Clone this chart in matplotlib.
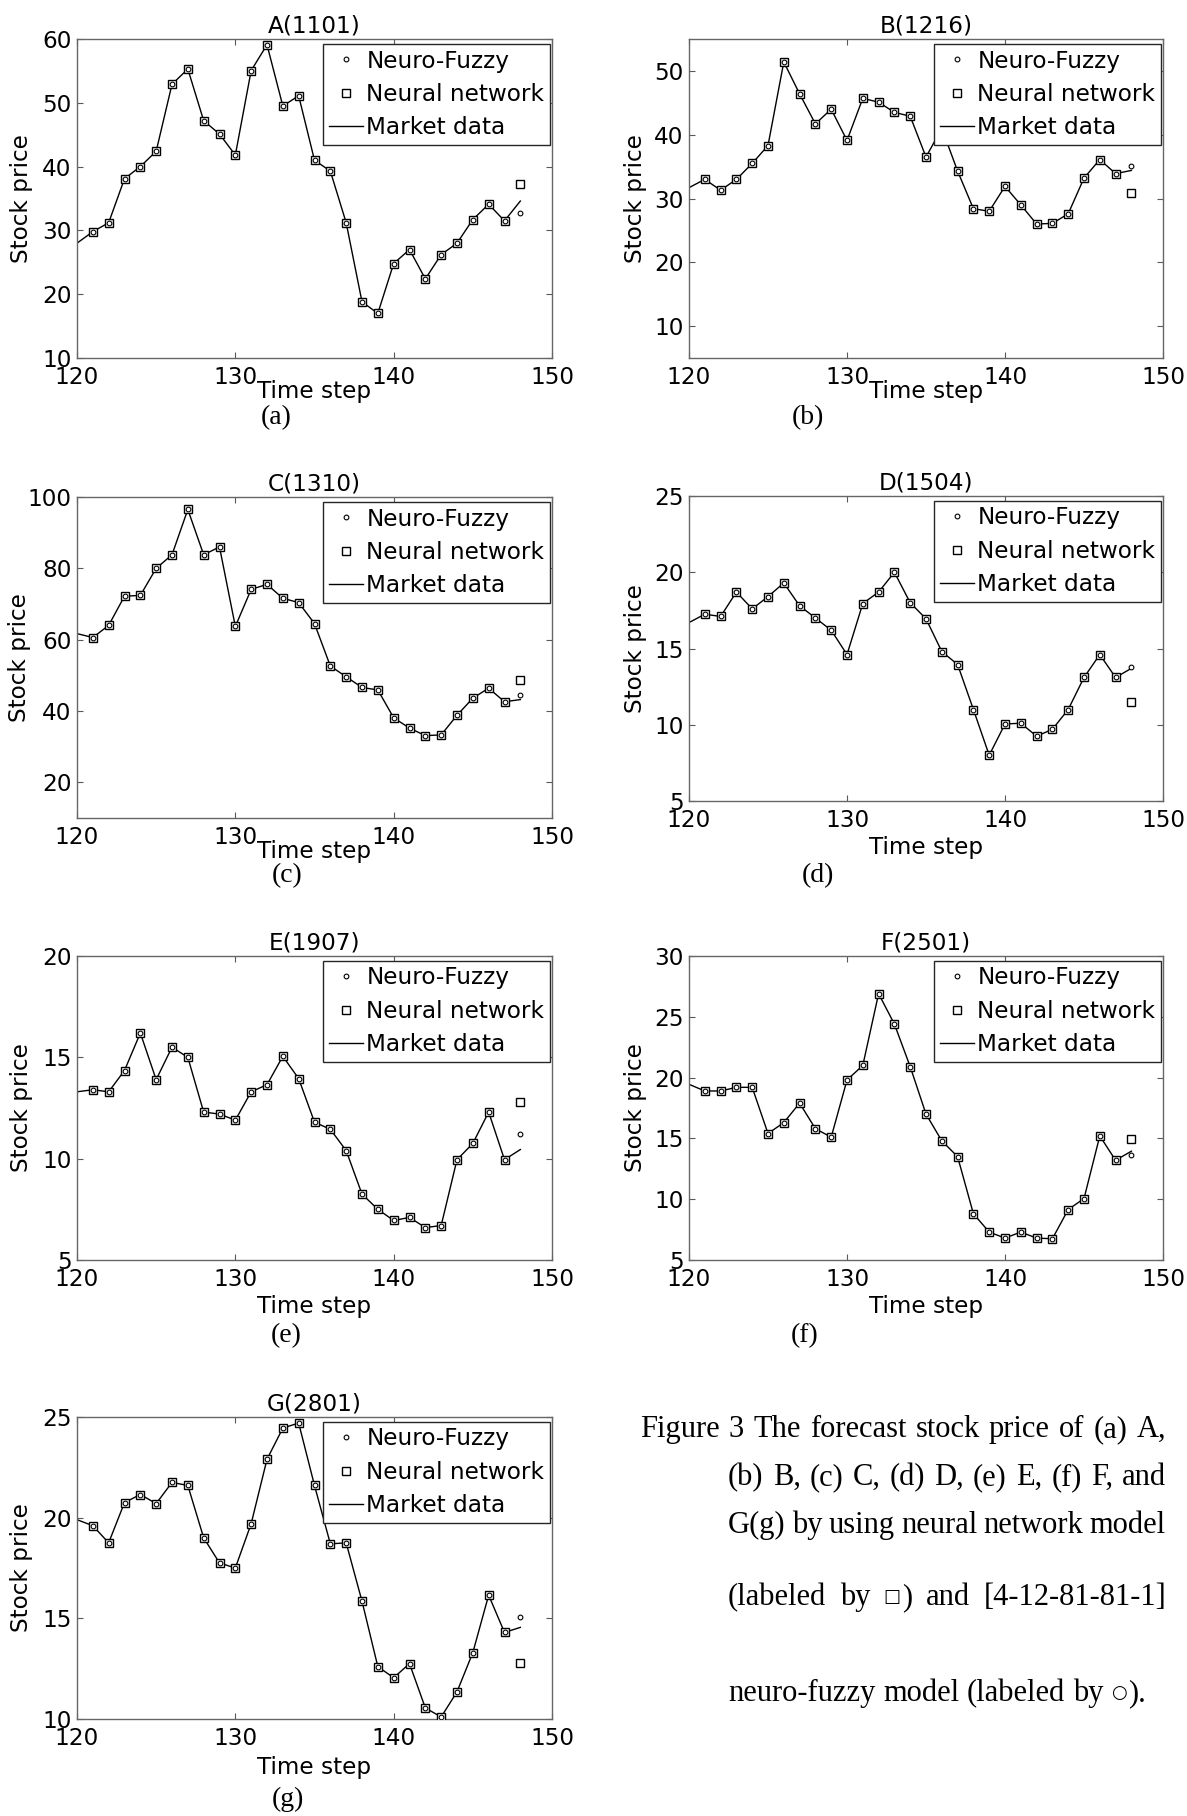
import matplotlib
matplotlib.use('Agg')
import matplotlib.pyplot as plt

W, H = 1187, 1816
fig = plt.figure(figsize=(W / 100, H / 100), dpi=100)
plt.rcParams['font.family'] = ['DejaVu Sans']

steps = list(range(120, 149))

# market data, time step 120..148
market_a = [28.0, 29.8, 31.2, 38.1, 40.0, 42.4, 52.9, 55.3, 47.2, 45.1, 41.8, 55.05, 59.1, 49.5, 51.1,
            41.0, 39.3, 31.2, 18.8, 17.0, 24.8, 27.0, 22.4, 26.2, 28.0, 31.7, 34.1, 31.5, 34.6]
market_b = [31.7, 33.0, 31.3, 33.0, 35.5, 38.3, 51.4, 46.4, 41.7, 44.0, 39.1, 45.7, 45.1, 43.5, 42.9,
            36.5, 41.0, 34.3, 28.4, 28.0, 31.9, 29.0, 26.0, 26.1, 27.6, 33.2, 36.1, 33.9, 34.4]
market_c = [61.7, 60.6, 64.0, 72.2, 72.4, 80.0, 83.8, 96.5, 83.8, 86.0, 63.7, 74.1, 75.5, 71.6, 70.4,
            64.5, 52.6, 49.6, 46.6, 45.9, 38.1, 35.2, 33.1, 33.3, 38.8, 43.6, 46.4, 42.6, 43.2]
market_d = [16.7, 17.25, 17.1, 18.7, 17.6, 18.4, 19.3, 17.8, 17.0, 16.2, 14.6, 17.95, 18.7, 20.0, 18.0,
            16.95, 14.8, 13.95, 11.0, 8.0, 10.05, 10.1, 9.25, 9.7, 11.0, 13.1, 14.6, 13.1, 13.7]
market_e = [13.3, 13.4, 13.3, 14.35, 16.2, 13.9, 15.5, 15.0, 12.3, 12.2, 11.9, 13.3, 13.65, 15.05, 13.95,
            11.8, 11.45, 10.4, 8.25, 7.5, 6.95, 7.1, 6.6, 6.7, 9.95, 10.75, 12.3, 9.95, 10.45]
market_f = [19.45, 18.9, 18.9, 19.2, 19.2, 15.4, 16.3, 17.9, 15.8, 15.1, 19.8, 21.0, 26.9, 24.4, 20.9,
            17.0, 14.8, 13.5, 8.8, 7.3, 6.8, 7.3, 6.8, 6.75, 9.15, 10.05, 15.2, 13.2, 13.95]
market_g = [19.9, 19.6, 18.75, 20.75, 21.15, 20.7, 21.75, 21.6, 19.0, 17.75, 17.5, 19.7, 22.9, 24.45, 24.7,
            21.6, 18.7, 18.75, 15.85, 12.6, 12.05, 12.75, 10.55, 10.1, 11.35, 13.3, 16.15, 14.3, 14.55]
markets = [market_a, market_b, market_c, market_d, market_e, market_f, market_g]

# forecasts at step 148
nf_pred = [32.8, 35.05, 44.6, 13.8, 11.2, 13.65, 15.05]
nn_pred = [37.3, 30.8, 48.7, 11.5, 12.8, 14.95, 12.8]

titles = ['A(1101)', 'B(1216)', 'C(1310)', 'D(1504)', 'E(1907)', 'F(2501)', 'G(2801)']
sublabels = ['(a)', '(b)', '(c)', '(d)', '(e)', '(f)', '(g)']
ylims = [(10, 60), (5, 55), (10, 100), (5, 25), (5, 20), (5, 30), (10, 25)]
yticks = [range(10, 61, 10), range(10, 51, 10), range(20, 101, 20), range(5, 26, 5),
          range(5, 21, 5), range(5, 31, 5), range(10, 26, 5)]
xticks = [120, 130, 140, 150]

# layout in pixels: left, top, right, bottom
boxes = [(77, 39, 552, 358), (689, 39, 1163, 358), (77, 497, 552, 818), (689, 496, 1163, 801),
         (77, 956, 552, 1260), (689, 956, 1163, 1260), (77, 1417, 552, 1719)]
xlab_off = [22, 22, 22, 35, 35, 35, 37]
ylab_off = [44, 42, 46, 42, 44, 42, 44]
sub_pos = [(276, 418), (808, 418), (287, 876), (818, 876), (286, 1336), (805, 1336), (288, 1799)]

FS = 16.7
for i in range(7):
    l, t, r, b = boxes[i]
    ax = fig.add_axes([l / W, 1 - b / H, (r - l) / W, (b - t) / H])
    m = markets[i]
    ax.plot(steps, m, color='k', lw=1.0, label='Market data', zorder=2)
    ax.plot(steps[1:28] + [148], m[1:28] + [nn_pred[i]], ls='none', marker='s', ms=5.2,
            mfc='white', mec='k', mew=1.0, label='Neural network', zorder=3)
    ax.plot(steps[1:28] + [148], m[1:28] + [nf_pred[i]], ls='none', marker='o', ms=3.4,
            mfc='white', mec='k', mew=0.8, label='Neuro-Fuzzy', zorder=4)
    ax.set_xlim(120, 150)
    ax.set_ylim(*ylims[i])
    ax.set_xticks(xticks)
    ax.set_yticks(list(yticks[i]))
    ax.tick_params(direction='in', top=True, right=True, length=4, width=0.8,
                   labelsize=FS, color='0.35')
    ax.tick_params(axis='x', pad=6)
    ax.tick_params(axis='y', pad=4)
    for s in ax.spines.values():
        s.set_color('0.4')
        s.set_linewidth(1.0)
    ax.set_title(titles[i], fontsize=FS, pad=5)
    ax.set_ylabel('Stock price', fontsize=FS)
    ax.yaxis.set_label_coords(-ylab_off[i] / (r - l), 0.5)
    ax.set_xlabel('Time step', fontsize=FS)
    ax.xaxis.set_label_coords(0.5, -xlab_off[i] / (b - t))
    h, lab = ax.get_legend_handles_labels()
    leg = ax.legend([h[2], h[1], h[0]], [lab[2], lab[1], lab[0]],
                    loc='upper right', bbox_to_anchor=(0.996, 0.985), borderaxespad=0,
                    fontsize=FS, fancybox=False, framealpha=1, edgecolor='0.15',
                    handlelength=1.45, handletextpad=0.15, labelspacing=0.45, borderpad=0.25)
    leg.get_frame().set_linewidth(1.0)
    sx, sy = sub_pos[i]
    fig.text(sx / W, 1 - sy / H, sublabels[i], fontsize=20, family=['Liberation Serif'],
             ha='center', va='center')

# caption, justified like the original
CF = 22
cap_lines = [
    (640, 1437, True, ['Figure', '3', 'The', 'forecast', 'stock', 'price', 'of', '(a)', 'A,']),
    (728, 1485, True, ['(b)', 'B,', '(c)', 'C,', '(d)', 'D,', '(e)', 'E,', '(f)', 'F,', 'and']),
    (728, 1533, True, ['G(g)', 'by', 'using', 'neural', 'network', 'model']),
    (728, 1605, True, ['(labeled', 'by', '\u25a1)', 'and', '[4-12-81-81-1]']),
    (728, 1701, False, ['neuro-fuzzy', 'model', '(labeled', 'by', '\u25cb).']),
]
cap_right = 1166
fam = ['Liberation Serif', 'DejaVu Serif']
renderer = fig.canvas.get_renderer()
for x0, yb, justify, words in cap_lines:
    placed = []
    widths = []
    for w in words:
        # symbols are drawn smaller and lifted, as in the original
        if w[0] in '\u25a1\u25cb':
            parts = [(w[0], 13, 3, ['DejaVu Sans']), (w[1:], CF, 0, fam)]
        else:
            parts = [(w, CF, 0, fam)]
        segs = []
        wsum = 0
        for txt, fs, dy, ff in parts:
            tt = fig.text(0, 0, txt, fontsize=fs, family=ff, va='baseline', ha='left')
            ww = tt.get_window_extent(renderer).width
            if fs != CF:
                ww += 2
            segs.append((tt, ww, dy))
            wsum += ww
        placed.append(segs)
        widths.append(wsum)
    if justify:
        gap = (cap_right - x0 - sum(widths)) / (len(words) - 1)
    else:
        space = fig.text(0, 0, 'a b', fontsize=CF, family=fam)
        ab = fig.text(0, 0, 'ab', fontsize=CF, family=fam)
        gap = space.get_window_extent(renderer).width - ab.get_window_extent(renderer).width
        space.remove()
        ab.remove()
    x = x0
    for segs, wsum in zip(placed, widths):
        xx = x
        for tt, ww, dy in segs:
            tt.set_position((xx / W, 1 - (yb - dy) / H))
            xx += ww
        x += wsum + gap

fig.savefig('out.png', dpi=100)
